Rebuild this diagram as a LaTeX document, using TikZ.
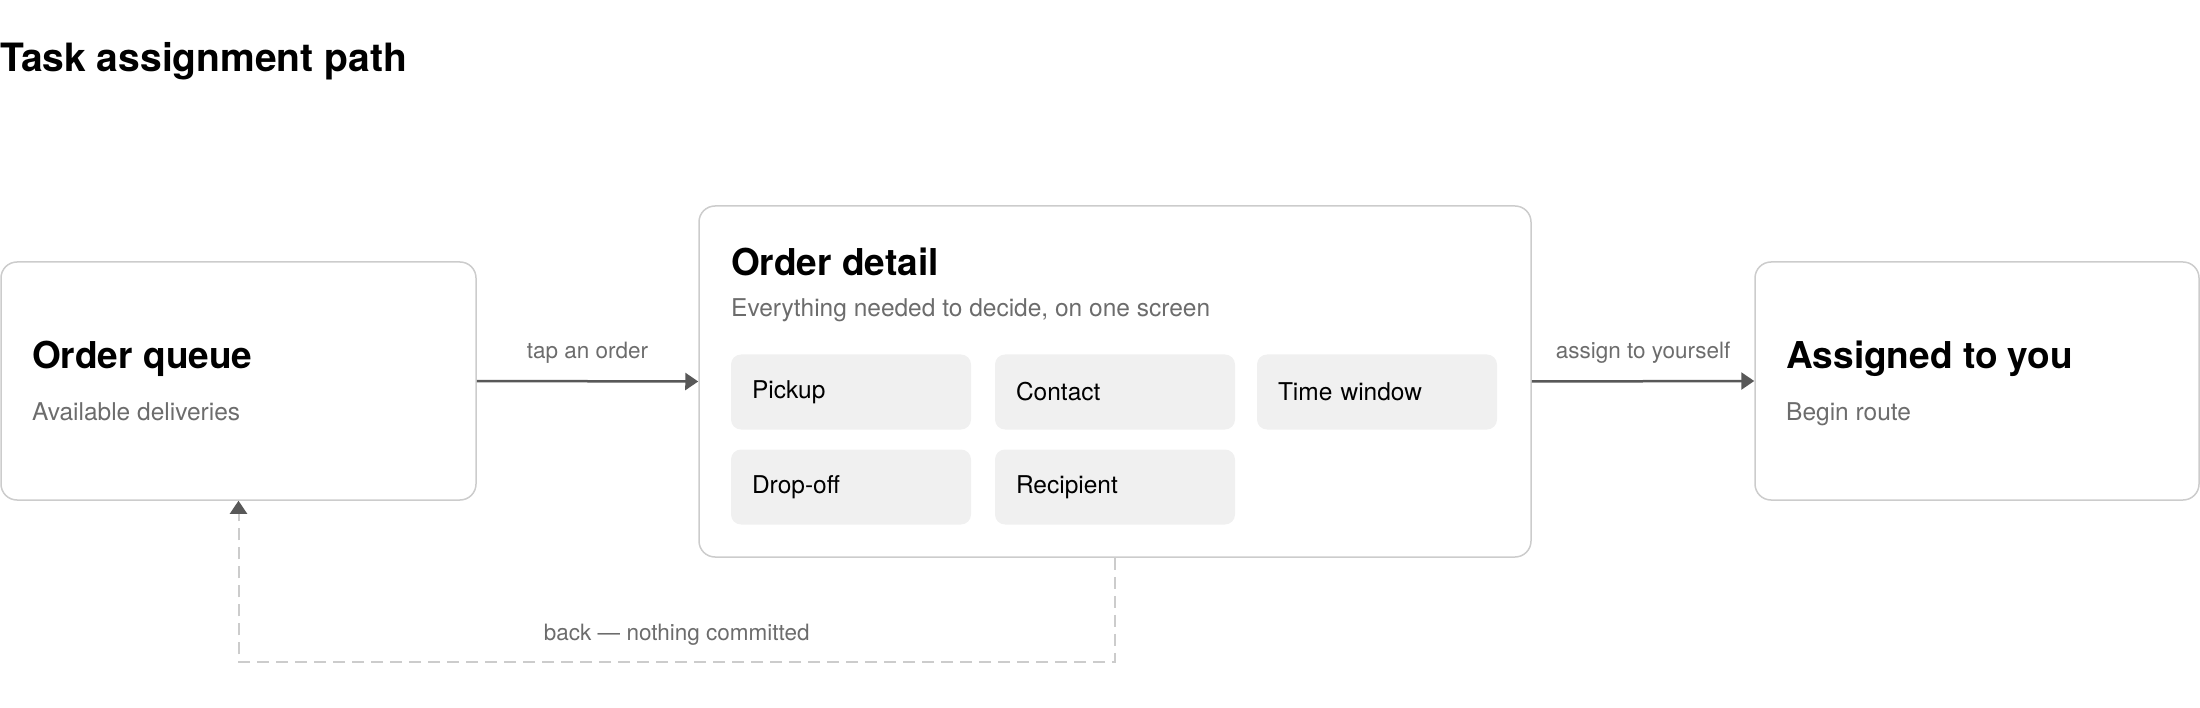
\documentclass[tikz,border=0pt]{standalone}
\usepackage{fontspec}
\setmainfont{TeX Gyre Heros}
\usetikzlibrary{arrows.meta}
\definecolor{edgegray}{RGB}{204,204,204}
\definecolor{chipfill}{RGB}{240,240,240}
\definecolor{subgray}{RGB}{108,108,108}
\definecolor{arrowgray}{RGB}{88,88,88}
\newcommand{\fsize}[1]{\fontsize{#1}{#1}\selectfont}

\begin{document}
\begin{tikzpicture}[x=1pt,y=-1pt,
		card/.style={draw=edgegray, line width=1.5pt, rounded corners=16pt, inner sep=0pt},
		chip/.style={fill=chipfill, rounded corners=10pt, minimum width=240pt, minimum height=75pt,
			text width=198pt, inner xsep=21pt, inner ysep=0pt, align=left, font=\fsize{24.5}},
		head/.style={anchor=base west, inner sep=0pt, font=\bfseries\fsize{37}},
		sub/.style={anchor=base west, inner sep=0pt, text=subgray, font=\fsize{24.5}},
		lbl/.style={anchor=base, inner sep=0pt, text=subgray, font=\fsize{22.5}},
		flow/.style={draw=arrowgray, line width=2.5pt, -{Triangle[length=13pt,width=17pt]}},
		back/.style={draw=edgegray, line width=2pt, dash pattern=on 12pt off 7pt,
			-{Triangle[length=13pt,width=17pt,color=arrowgray]}}]
		\useasboundingbox (0,0) rectangle (2200,708);

		\node[anchor=base west, inner sep=0pt, font=\bfseries\fsize{39}] at (0,72) (title) {Task assignment path};

		% the three screens
		\node[card, minimum width=475pt, minimum height=238pt] at (238.5,381) (queue) {};
		\node[card, minimum width=832pt, minimum height=351pt] at (1115,381.5) (detail) {};
		\node[card, minimum width=444pt, minimum height=238pt] at (1977,381) (assigned) {};

		\node[head] at (32,369) (queuehead) {Order queue};
		\node[sub] at (32,420) (queuesub) {Available deliveries};

		\node[head] at (731,276) (detailhead) {Order detail};
		\node[sub] at (731,317) (detailsub) {Everything needed to decide, on one screen};

		\node[head] at (1786,369) (assignedhead) {Assigned to you};
		\node[sub] at (1786,420) (assignedsub) {Begin route};

		% what the detail screen shows
		\node[chip] at (851,392) (pickup) {Pickup};
		\node[chip] at (1115,392) (contact) {Contact};
		\node[chip] at (1377,392) (window) {Time window};
		\node[chip] at (851,487) (dropoff) {Drop-off};
		\node[chip] at (1115,487) (recipient) {Recipient};

		\path[flow] (queue.east) -- node[lbl, midway, yshift=23pt]{tap an order} (detail.west);
		\path[flow] (detail.east) -- node[lbl, midway, yshift=23pt]{assign to yourself} (assigned.west);
		\path[back] (detail.south) -- ++(0,104)
			-| node[lbl, pos=0.25, yshift=21pt]{back --- nothing committed} (queue.south);
	\end{tikzpicture}
\end{document}
